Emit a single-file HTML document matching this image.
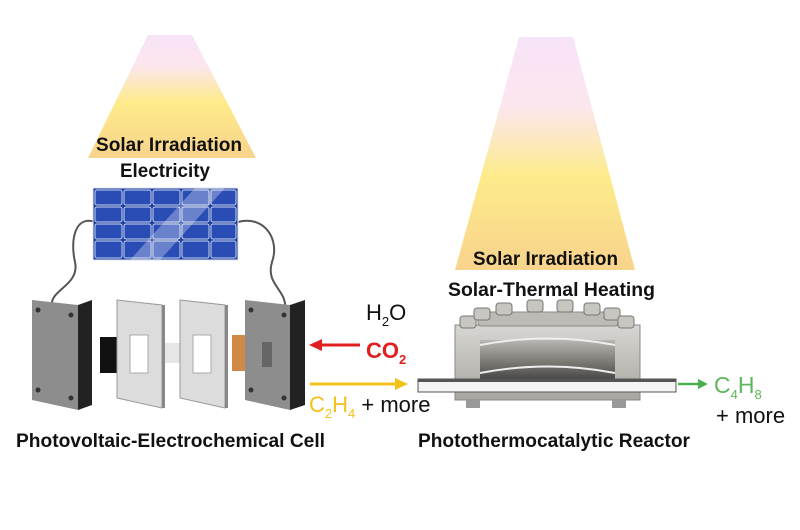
<!DOCTYPE html>
<html><head><meta charset="utf-8"><style>
body{margin:0;background:#fff}
svg{display:block;font-family:"Liberation Sans",Arial,sans-serif}
</style></head><body>
<svg width="800" height="530" viewBox="0 0 800 530">
<defs>
<linearGradient id="cone" x1="0" y1="0" x2="0" y2="1">
<stop offset="0" stop-color="#f7e3f7"/><stop offset="0.25" stop-color="#fbe6ee"/>
<stop offset="0.55" stop-color="#fdeb8a"/><stop offset="1" stop-color="#f8d38c"/>
</linearGradient>
<linearGradient id="cone2" x1="0" y1="0" x2="0" y2="1">
<stop offset="0" stop-color="#f7e3f7"/><stop offset="0.3" stop-color="#fbe6ee"/>
<stop offset="0.6" stop-color="#fdeb8a"/><stop offset="1" stop-color="#f8d38c"/>
</linearGradient>
<linearGradient id="metal" x1="0" y1="0" x2="0" y2="1">
<stop offset="0" stop-color="#d8d6d2"/><stop offset="1" stop-color="#a9a6a0"/>
</linearGradient>
<linearGradient id="drum" x1="0" y1="0" x2="0" y2="1">
<stop offset="0" stop-color="#b8b6b2"/><stop offset="0.6" stop-color="#77746f"/><stop offset="1" stop-color="#444"/>
</linearGradient>
</defs>
<polygon points="148,35 192,35 256,158 88,158" fill="url(#cone)"/>
<polygon points="519,37 573,37 635,270 455,270" fill="url(#cone2)"/>
<g font-weight="bold" fill="#111" font-size="19" lengthAdjust="spacingAndGlyphs">
<text x="96" y="151" textLength="146" lengthAdjust="spacingAndGlyphs">Solar Irradiation</text>
<text x="120" y="177" textLength="90" lengthAdjust="spacingAndGlyphs">Electricity</text>
<text x="473" y="265" textLength="145" lengthAdjust="spacingAndGlyphs">Solar Irradiation</text>
<text x="448" y="296" textLength="207" lengthAdjust="spacingAndGlyphs">Solar-Thermal Heating</text>
<text x="16" y="447" textLength="309" lengthAdjust="spacingAndGlyphs">Photovoltaic-Electrochemical Cell</text>
<text x="418" y="447" textLength="272" lengthAdjust="spacingAndGlyphs">Photothermocatalytic Reactor</text>
</g>
<path d="M95,222 C75,215 70,240 75,262 C80,285 50,290 52,305" fill="none" stroke="#555" stroke-width="2"/>
<path d="M238,222 C265,215 280,240 272,262 C265,285 288,290 285,310" fill="none" stroke="#555" stroke-width="2"/>
<rect x="93" y="188" width="145" height="72" fill="#1f3f9e" stroke="#dfe6f5" stroke-width="1"/>
<g fill="#2a4cb5" stroke="#c8d4f2" stroke-width="1">
<rect x="95" y="190" width="27" height="15" rx="2"/><rect x="124" y="190" width="27" height="15" rx="2"/><rect x="153" y="190" width="27" height="15" rx="2"/><rect x="182" y="190" width="27" height="15" rx="2"/><rect x="211" y="190" width="25" height="15" rx="2"/>
<rect x="95" y="207" width="27" height="15" rx="2"/><rect x="124" y="207" width="27" height="15" rx="2"/><rect x="153" y="207" width="27" height="15" rx="2"/><rect x="182" y="207" width="27" height="15" rx="2"/><rect x="211" y="207" width="25" height="15" rx="2"/>
<rect x="95" y="224" width="27" height="15" rx="2"/><rect x="124" y="224" width="27" height="15" rx="2"/><rect x="153" y="224" width="27" height="15" rx="2"/><rect x="182" y="224" width="27" height="15" rx="2"/><rect x="211" y="224" width="25" height="15" rx="2"/>
<rect x="95" y="241" width="27" height="17" rx="2"/><rect x="124" y="241" width="27" height="17" rx="2"/><rect x="153" y="241" width="27" height="17" rx="2"/><rect x="182" y="241" width="27" height="17" rx="2"/><rect x="211" y="241" width="25" height="17" rx="2"/>
</g>
<polygon points="130,260 195,188 225,188 160,260" fill="#fff" opacity="0.3"/>
<polygon points="32,300 78,305 78,410 32,400" fill="#8d8d8d"/>
<polygon points="78,305 92,300 92,405 78,410" fill="#222"/>
<g fill="#333"><circle cx="38" cy="310" r="2.5"/><circle cx="71" cy="315" r="2.5"/><circle cx="38" cy="390" r="2.5"/><circle cx="71" cy="398" r="2.5"/></g>
<rect x="100" y="337" width="18" height="36" fill="#111"/>
<polygon points="117,300 162,305 162,408 117,398" fill="#dcdcdc" stroke="#999"/>
<rect x="162" y="305" width="3" height="103" fill="#888"/>
<rect x="130" y="335" width="18" height="38" fill="#fff" stroke="#aaa"/>
<rect x="165" y="343" width="16" height="20" fill="#e6e6e6"/>
<polygon points="180,300 225,305 225,408 180,398" fill="#dcdcdc" stroke="#999"/>
<rect x="225" y="305" width="3" height="103" fill="#888"/>
<rect x="193" y="335" width="18" height="38" fill="#fff" stroke="#aaa"/>
<rect x="232" y="335" width="16" height="36" fill="#cf8a45"/>
<rect x="245" y="335" width="5" height="36" fill="#222"/>
<polygon points="245,300 290,305 290,410 245,400" fill="#8d8d8d"/>
<polygon points="290,305 305,300 305,405 290,410" fill="#222"/>
<rect x="262" y="342" width="10" height="25" fill="#666"/>
<g fill="#333"><circle cx="251" cy="310" r="2.5"/><circle cx="284" cy="315" r="2.5"/><circle cx="251" cy="390" r="2.5"/><circle cx="284" cy="398" r="2.5"/></g>
<line x1="320" y1="345" x2="360" y2="345" stroke="#e02020" stroke-width="3"/>
<polygon points="309,345 322,339 322,351" fill="#e02020"/>
<line x1="310" y1="384" x2="398" y2="384" stroke="#f2c21a" stroke-width="3"/>
<polygon points="408,384 395,378 395,390" fill="#f2c21a"/>
<text x="366" y="320" font-size="22" fill="#111">H<tspan font-size="13" dy="6">2</tspan><tspan dy="-6">O</tspan></text>
<text x="366" y="358" font-size="22" font-weight="bold" fill="#e02020">CO<tspan font-size="13" dy="6">2</tspan></text>
<text x="309" y="412" font-size="22" fill="#f2c21a">C<tspan font-size="13" dy="6">2</tspan><tspan dy="-6">H</tspan><tspan font-size="13" dy="6">4</tspan><tspan dy="-6" fill="#111"> + more</tspan></text>
<rect x="455" y="325" width="185" height="75" fill="url(#metal)" stroke="#888"/>
<rect x="478" y="312" width="140" height="14" rx="3" fill="#bdbbb6" stroke="#888"/>
<g fill="#c8c6c1" stroke="#777">
<rect x="460" y="316" width="16" height="12" rx="3"/><rect x="474" y="308" width="16" height="12" rx="3"/><rect x="496" y="303" width="16" height="12" rx="3"/><rect x="527" y="300" width="16" height="12" rx="3"/><rect x="557" y="300" width="16" height="12" rx="3"/><rect x="584" y="303" width="16" height="12" rx="3"/><rect x="604" y="308" width="16" height="12" rx="3"/><rect x="618" y="316" width="16" height="12" rx="3"/>
</g>
<rect x="480" y="340" width="135" height="40" fill="url(#drum)"/>
<path d="M480,345 Q548,332 615,345" fill="none" stroke="#eee" stroke-width="2"/>
<path d="M480,373 Q548,360 615,373" fill="none" stroke="#eee" stroke-width="2"/>
<rect x="418" y="379" width="258" height="13" fill="#f4f4f4" stroke="#555"/>
<rect x="418" y="379" width="258" height="3" fill="#555"/>
<g fill="#999"><rect x="466" y="400" width="14" height="8"/><rect x="612" y="400" width="14" height="8"/></g>
<line x1="678" y1="384" x2="700" y2="384" stroke="#4caf50" stroke-width="2.5"/>
<polygon points="708,384 698,379 698,389" fill="#4caf50"/>
<text x="714" y="393" font-size="23" fill="#5cb85c">C<tspan font-size="13" dy="6">4</tspan><tspan dy="-6">H</tspan><tspan font-size="13" dy="6">8</tspan></text>
<text x="716" y="423" font-size="22" fill="#111">+ more</text>
</svg>
</body></html>
